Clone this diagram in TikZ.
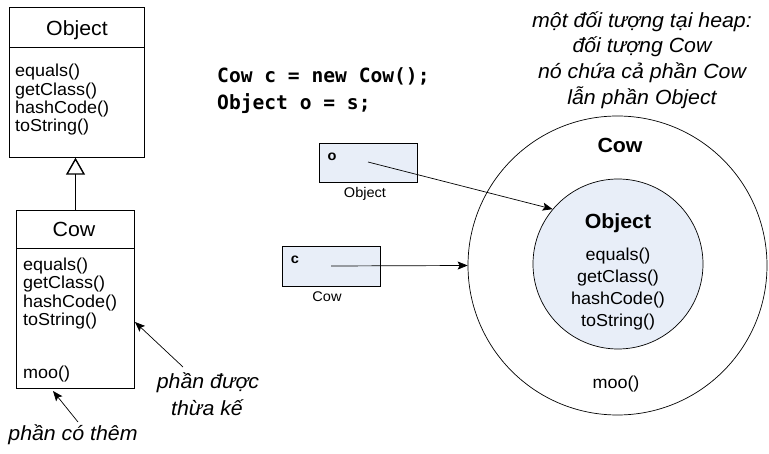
\documentclass[tikz,border=0pt]{standalone}
\usepackage{fontspec}
\setmainfont{Liberation Sans}[FakeStretch=1.04]
\newfontfamily\codefont{DejaVu Sans Mono}
\usetikzlibrary{arrows.meta}
\definecolor{lblue}{RGB}{232,238,248}
\begin{document}
\begin{tikzpicture}[x=1pt,y=-1pt,
  box/.style={draw, line width=0.7pt, inner sep=0, anchor=north west},
  meth/.style={inner sep=0, anchor=base west, font=\fontsize{17.3}{18.2}\selectfont},
  cmeth/.style={inner sep=0, anchor=base, font=\fontsize{17.3}{18}\selectfont},
  title/.style={inner sep=0, anchor=base, font=\fontsize{20.5}{22}\selectfont},
  btitle/.style={inner sep=0, anchor=base, font=\bfseries\fontsize{20.5}{22}\selectfont},
  note/.style={inner sep=0, anchor=base, font=\itshape\fontsize{20.5}{22}\selectfont},
  code/.style={inner sep=0, anchor=base west, font=\codefont\bfseries\fontsize{19.6}{22}\selectfont},
  small/.style={inner sep=0, anchor=base, font=\fontsize{14}{15}\selectfont},
  arr/.style={-{Stealth[length=10pt,width=8pt,inset=2pt]}, line width=0.7pt}]
\useasboundingbox (0,0) rectangle (769,454);
% Object class
\node[box, minimum width=135pt, minimum height=40pt] (objHead) at (9,7) {};
\node[box, minimum width=135pt, minimum height=110pt] (objBody) at (9,47) {};
\node[title] (objT) at (77,36) {Object};
\node[meth] (om1) at (15,77) {equals()};
\node[meth] (om2) at (15,95.2) {getClass()};
\node[meth] (om3) at (15,113.4) {hashCode()};
\node[meth] (om4) at (15,131.6) {toString()};
% Cow class
\node[box, minimum width=118pt, minimum height=38pt] (cowHead) at (16,210) {};
\node[box, minimum width=118pt, minimum height=140pt] (cowBody) at (16,248) {};
\node[title] (cowT) at (74,237) {Cow};
\node[meth] (cm1) at (23,270.5) {equals()};
\node[meth] (cm2) at (23,288.8) {getClass()};
\node[meth] (cm3) at (23,307.1) {hashCode()};
\node[meth] (cm4) at (23,325.4) {toString()};
\node[meth] (cm5) at (23,379) {moo()};
% generalization
\draw[line width=1.6pt, -{Triangle[open, length=17pt, width=19pt, line width=1.4pt]}]
  (cowHead.north -| 75.5,0) -- (objBody.south -| 75.5,0);
% annotation arrows
\coordinate (inhT) at (183,367);
\coordinate (inhH) at (135,322);
\draw[arr] (inhT) -- (inhH);
\node[note] (inh1) at (208,389) {phần được};
\node[note] (inh2) at (207,416) {thừa kế};
\coordinate (addT) at (78,422);
\coordinate (addH) at (53,391);
\draw[arr] (addT) -- (addH);
\node[note] (add1) at (73,441) {phần có thêm};
% code
\node[code] (code1) at (217,83) {Cow c = new Cow();};
\node[code] (code2) at (217,110) {Object o = s;};
% reference variables
\node[box, fill=lblue, minimum width=98pt, minimum height=39pt] (obox) at (319,143) {};
\node[small, font=\bfseries\fontsize{14}{15}\selectfont] (olab) at (332,160.7) {o};
\node[small] (otype) at (365,198) {Object};
\node[box, fill=lblue, minimum width=98pt, minimum height=40pt] (cbox) at (282,246) {};
\node[small, font=\bfseries\fontsize{14}{15}\selectfont] (clab) at (295,264) {c};
\node[small] (ctype) at (327,302) {Cow};
% heap object
\node[circle, draw, line width=0.7pt, minimum size=299pt, inner sep=0] (outer) at (617.5,265.5) {};
\node[circle, draw, line width=0.7pt, fill=lblue, minimum size=170pt, inner sep=0] (inner) at (618,264) {};
\node[btitle] (outT) at (620,153) {Cow};
\node[btitle] (inT) at (618,228.5) {Object};
\node[cmeth] (im1) at (618,261) {equals()};
\node[cmeth] (im2) at (618,283) {getClass()};
\node[cmeth] (im3) at (618,305) {hashCode()};
\node[cmeth] (im4) at (618,326.5) {toString()};
\node[cmeth] (im5) at (616,389) {moo()};
\coordinate (oStart) at (368,162);
\coordinate (cStart) at (331,266);
\draw[arr] (oStart) -- (inner.140);
\draw[arr] (cStart) -- (outer.west);
% note on top
\node[note] (n1) at (642,28) {một đối tượng tại heap:};
\node[note] (n2) at (642,53) {đối tượng Cow};
\node[note] (n3) at (642,79) {nó chứa cả phần Cow};
\node[note] (n4) at (642,105) {lẫn phần Object};
\end{tikzpicture}
\end{document}
